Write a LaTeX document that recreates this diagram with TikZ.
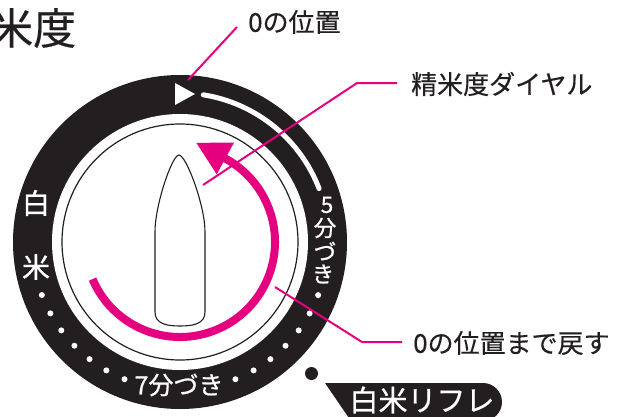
\documentclass[tikz,border=0pt]{standalone}
\usepackage{fontspec}
\setmainfont{Noto Sans CJK JP}
\newfontfamily\heavy{Noto Sans CJK JP}[FakeBold=0.8]
\newfontfamily\semi{Noto Sans CJK JP}[FakeBold=0.4]
\usetikzlibrary{calc}
\definecolor{mag}{HTML}{E4007F}
\definecolor{ink}{HTML}{231F20}
\begin{document}
\begin{tikzpicture}[x=1pt,y=1pt,
  lab/.style={inner sep=0pt, text=ink, font=\semi\fontsize{26}{30}\selectfont, anchor=west},
  ringtxt/.style={inner sep=0pt, text=white},
  leader/.style={draw=mag, line width=2pt},
  whitedot/.style={fill=white}
]
\useasboundingbox (0,0) rectangle (633,-416);
\clip (0,0) rectangle (633,-416);
\coordinate (C) at (180,-242);
% dial ring
\fill[ink] (C) circle[radius=167];
\fill[white] (C) circle[radius=128];
\draw[ink, line width=1.2pt] (C) circle[radius=118];
% white track and zero mark
\draw[white, line width=5pt, line cap=round] ($(C)+(81:149)$) arc[start angle=81, end angle=21, radius=149];
\fill[white] (175,-83) -- (175,-105) -- (195,-94) -- cycle;
% dots
\foreach \k in {0,...,6} {
  \fill[whitedot] ($(C)+(201+7.83*\k:148)$) circle[radius=3];
  \fill[whitedot] ($(C)+(292+7.83*\k:148)$) circle[radius=3];
}
% ring texts
\node[ringtxt, font=\heavy\fontsize{28}{28}\selectfont] (w1) at (36,-203) {白};
\node[ringtxt, font=\heavy\fontsize{28}{28}\selectfont] (w2) at (36,-267) {米};
\node[ringtxt, font=\heavy\fontsize{22.5}{23}\selectfont] (f1) at (327,-205) {5};
\node[ringtxt, font=\heavy\fontsize{22.5}{23}\selectfont] (f2) at (325,-228) {分};
\node[ringtxt, font=\heavy\fontsize{22.5}{23}\selectfont] (f3) at (325,-251) {づ};
\node[ringtxt, font=\heavy\fontsize{22.5}{23}\selectfont] (f4) at (323,-274) {き};
\node[ringtxt, font=\heavy\fontsize{25}{25}\selectfont] (s7) at (179,-385) {7分づき};
% grain pointer
\draw[ink, line width=1.1pt, fill=white] (179,-155) .. controls (186,-155) and (205,-205) .. (205,-232) -- (205,-312) .. controls (205,-324) and (193,-326) .. (180,-326) .. controls (167,-326) and (155,-324) .. (155,-312) -- (155,-232) .. controls (155,-205) and (172,-155) .. (179,-155) -- cycle;
% magenta return arrow
\draw[mag, line width=8pt] ($(C)+(203:95)$) arc[start angle=203, end angle=422, radius=95];
\fill[mag] ($(C)+(61.5:77)$) -- ($(C)+(61.5:113)$) -- ($(C)+(61.5:95)+(151.5:33)$) -- cycle;
% refresh mark and tab
\fill[ink] (311.5,-373.5) circle[radius=6.5];
\fill[ink] (325,-383) -- (483,-383) arc[start angle=90, end angle=-90, radius=19] -- (351,-421) -- cycle;
\node[ringtxt, font=\heavy\fontsize{29}{29}\selectfont] (tab) at (422,-400) {白米リフレ};
% title
\node[inner sep=0pt, anchor=west, text=ink, font=\semi\fontsize{43}{43}\selectfont] (title) at (-10,-28) {米度};
% labels
\node[lab] (L0) at (248,-22) {0の位置};
\node[lab] (L1) at (411,-84) {精米度ダイヤル};
\node[lab] (L2) at (413,-343) {0の位置まで戻す};
\coordinate (a0) at ($(L0.west)+(-11,-5)$);
\coordinate (b0) at (188,-80);
\coordinate (a1) at ($(L1.west)+(-14,1)$);
\coordinate (k1) at (357,-83);
\coordinate (b1) at (203,-185);
\coordinate (a2) at ($(L2.west)+(-11,1)$);
\coordinate (k2) at (362,-342);
\coordinate (b2) at (275,-287);
\draw[leader] (a0) -- (b0);
\draw[leader] (a1) -- (k1) -- (b1);
\draw[leader] (a2) -- (k2) -- (b2);
\end{tikzpicture}
\end{document}
